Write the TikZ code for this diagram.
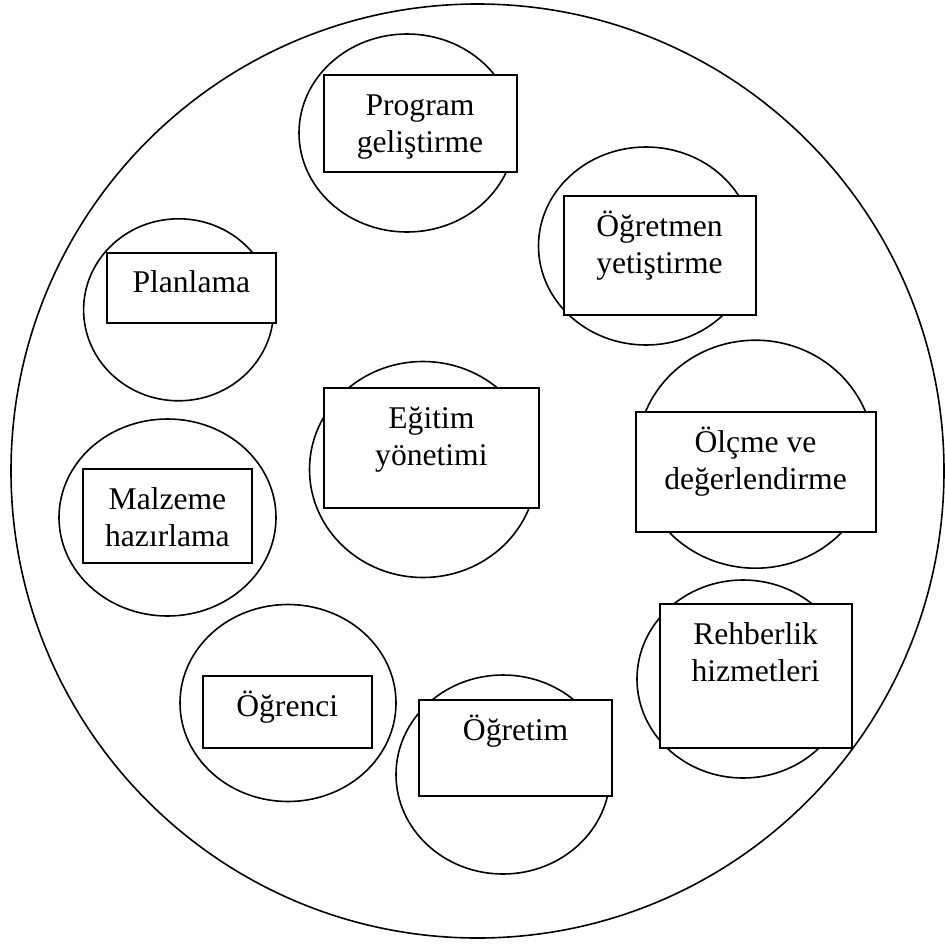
\documentclass[tikz,border=0pt]{standalone}
\usepackage{fontspec}
\setmainfont{Liberation Serif}
\usetikzlibrary{shapes.geometric}
\begin{document}
\begin{tikzpicture}[x=1pt,y=-1pt,
  ell/.style={draw, ellipse, line width=1.6pt, inner sep=0pt, outer sep=0pt},
  box/.style={draw, fill=white, rectangle, line width=2pt, inner sep=0pt, outer sep=0pt, anchor=north west},
  lbl/.style={inner sep=0pt, anchor=base, font=\fontsize{31.6}{37}\selectfont}]
\useasboundingbox (0,0) rectangle (945,945);
% big circle
\node[ell, minimum width=933pt, minimum height=934pt] (big) at (477.5,471) {};
% small ellipses
\node[ell, minimum width=216pt, minimum height=198pt] (c1) at (407,133) {};
\node[ell, minimum width=215pt, minimum height=198pt] (c2) at (646,246) {};
\node[ell, minimum width=190pt, minimum height=182pt] (c3) at (178.6,309.8) {};
\node[ell, minimum width=227pt, minimum height=216pt] (c4) at (423,469.5) {};
\node[ell, minimum width=237pt, minimum height=228pt] (c5) at (755.5,454.2) {};
\node[ell, minimum width=217pt, minimum height=197pt] (c6) at (167.5,517.5) {};
\node[ell, minimum width=212pt, minimum height=198pt] (c7) at (743,679) {};
\node[ell, minimum width=216pt, minimum height=197pt] (c8) at (288,703) {};
\node[ell, minimum width=214pt, minimum height=199pt] (c9) at (503,774.5) {};
% boxes
\node[box, minimum width=193pt, minimum height=97pt] (r1) at (323.5,75) {};
\node[box, minimum width=192pt, minimum height=119pt] (r2) at (563.5,196) {};
\node[box, minimum width=168.7pt, minimum height=70.5pt] (r3) at (107,252.5) {};
\node[box, minimum width=215.8pt, minimum height=120.3pt] (r4) at (323.5,387.7) {};
\node[box, minimum width=240pt, minimum height=119.7pt] (r5) at (635.5,412) {};
\node[box, minimum width=168.3pt, minimum height=94.2pt] (r6) at (83.3,469) {};
\node[box, minimum width=191.8pt, minimum height=143.9pt] (r7) at (659.7,603.7) {};
\node[box, minimum width=168.7pt, minimum height=71.9pt] (r8) at (202.9,675.7) {};
\node[box, minimum width=192.4pt, minimum height=96pt] (r9) at (419.4,700) {};
% labels
\node[lbl] (t1a) at ([yshift=-40.3pt]r1.north) {Program};
\node[lbl] (t1b) at ([yshift=-77.3pt]r1.north) {geliştirme};
\node[lbl] (t2a) at ([yshift=-40.3pt]r2.north) {Öğretmen};
\node[lbl] (t2b) at ([yshift=-77.3pt]r2.north) {yetiştirme};
\node[lbl] (t3a) at ([yshift=-40.3pt]r3.north) {Planlama};
\node[lbl] (t4a) at ([yshift=-40.3pt]r4.north) {Eğitim};
\node[lbl] (t4b) at ([yshift=-77.3pt]r4.north) {yönetimi};
\node[lbl] (t5a) at ([yshift=-40.3pt]r5.north) {Ölçme ve};
\node[lbl] (t5b) at ([yshift=-77.3pt]r5.north) {değerlendirme};
\node[lbl] (t6a) at ([yshift=-40.3pt]r6.north) {Malzeme};
\node[lbl] (t6b) at ([yshift=-77.3pt]r6.north) {hazırlama};
\node[lbl] (t7a) at ([yshift=-40.3pt]r7.north) {Rehberlik};
\node[lbl] (t7b) at ([yshift=-77.3pt]r7.north) {hizmetleri};
\node[lbl] (t8a) at ([yshift=-40.3pt]r8.north) {Öğrenci};
\node[lbl] (t9a) at ([yshift=-40.3pt]r9.north) {Öğretim};
\end{tikzpicture}
\end{document}
